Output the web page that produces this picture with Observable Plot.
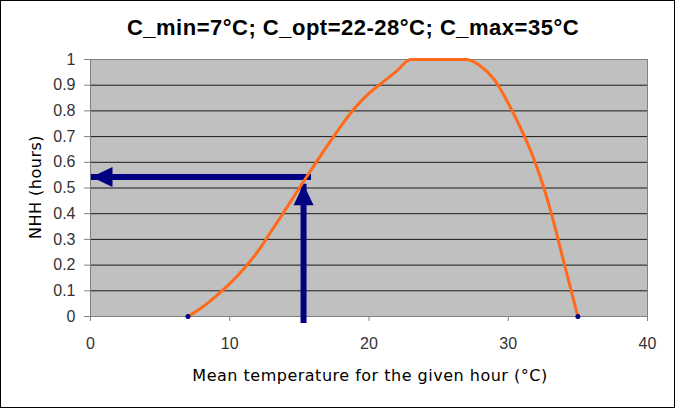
<!DOCTYPE html>
<html><head><meta charset="utf-8">
<script src="https://cdn.jsdelivr.net/npm/d3@7"></script>
<script src="https://cdn.jsdelivr.net/npm/@observablehq/plot@0.6"></script>
<style>
html,body{margin:0;padding:0;background:#fff;}
#wrap{position:relative;width:676px;height:409px;overflow:hidden;background:#fff;}
#chart{position:absolute;left:0;top:0;}
#border{position:absolute;left:0;top:0;width:675px;height:408px;border:1px solid #000;box-sizing:border-box;pointer-events:none;}
#title{position:absolute;left:353px;top:17px;transform:translateX(-50%);white-space:nowrap;font:bold 22px "Liberation Sans",Arial,sans-serif;line-height:22px;color:#000;letter-spacing:0.5px;}
#xlabel{position:absolute;left:370px;top:368px;transform:translateX(-50%);white-space:nowrap;font:16px "DejaVu Sans",sans-serif;line-height:16px;color:#000;letter-spacing:0.5px;}
#ylabel{position:absolute;left:36px;top:187px;transform:translate(-50%,-50%) rotate(-90deg);white-space:nowrap;font:16px "DejaVu Sans",sans-serif;line-height:16px;color:#000;letter-spacing:0.5px;}
</style>
</head><body>
<div id="wrap">
  <div id="chart"></div>
  <div id="title">C_min=7°C; C_opt=22-28°C; C_max=35°C</div>
  <div id="xlabel">Mean temperature for the given hour (°C)</div>
  <div id="ylabel">NHH (hours)</div>
  <div id="border"></div>
</div>
<script>
// Data
const temperature = [7, 8, 9, 10, 11, 12, 13, 14, 15, 16, 17, 18, 19, 20, 21, 22, 23, 24, 25, 26, 27, 28, 29, 30, 31, 32, 33, 34, 35];
const nhh = [0, 0.035, 0.078, 0.128, 0.185, 0.252, 0.333, 0.416, 0.5, 0.583, 0.664, 0.742, 0.812, 0.868, 0.912, 0.956, 1, 1, 1, 1, 1, 0.975, 0.922, 0.83, 0.72, 0.59, 0.42, 0.21, 0];
const endpointTemp = [7, 35];
const endpointNhh = [0, 0];
const xTicks = [0, 10, 20, 30, 40];
const yTicks = [0, 0.1, 0.2, 0.3, 0.4, 0.5, 0.6, 0.7, 0.8, 0.9, 1];
const gridLines = [0.1, 0.2, 0.3, 0.4, 0.5, 0.6, 0.7, 0.8, 0.9];
// Reading example (arrows)
const readTemp = [15.3];
const readTempFrom = [0.012];
const readTempTip = [0.515];
const readNhh = [0.543];
const readNhhFrom = [15.15];
const readNhhTip = [0.07];

const curveData = temperature.map((t, i) => ({t, v: nhh[i]}));
const endpoints = endpointTemp.map((t, i) => ({t, v: endpointNhh[i]}));

const arrowHead = {
  draw(context) {
    context.moveTo(0, 0);
    context.lineTo(10, 21);
    context.lineTo(-10, 21);
    context.closePath();
  }
};
const navy = "#000080";

const chart = Plot.plot({
  width: 676,
  height: 409,
  marginLeft: 90,
  marginRight: 29,
  marginTop: 59,
  marginBottom: 93,
  style: {background: "transparent", fontFamily: "'Liberation Sans', Arial, sans-serif", fontSize: "16px", overflow: "visible"},
  x: {domain: [0, 40]},
  y: {domain: [0, 1]},
  marks: [
    Plot.frame({fill: "#c0c0c0", stroke: null}),
    Plot.ruleY(gridLines, {stroke: "#1a1a1a", strokeWidth: 1}),
    Plot.frame({stroke: "#808080"}),
    Plot.axisY({ticks: yTicks, tickSize: 6, tickPadding: 9, stroke: "#808080", fill: "#333", tickFormat: d => String(d), label: null}),
    Plot.axisX({ticks: xTicks, tickSize: 5, tickPadding: 16, stroke: "#808080", fill: "#333", tickFormat: d => String(d), label: null}),
    // vertical arrow shaft + head
    Plot.ruleX(readTemp, {x: d => d, y1: () => readTempFrom[0], y2: () => readTempTip[0], insetTop: 10, stroke: navy, strokeWidth: 6, strokeLinecap: "butt"}),
    Plot.dot(readTemp, {x: d => d, y: () => readTempTip[0], symbol: arrowHead, fill: navy, stroke: null, r: 10}),
    // horizontal arrow shaft + head
    Plot.ruleY(readNhh, {y: d => d, x1: () => readNhhFrom[0], x2: () => readNhhTip[0], insetLeft: 10, stroke: navy, strokeWidth: 6, strokeLinecap: "butt"}),
    Plot.dot(readNhh, {y: d => d, x: () => readNhhTip[0], symbol: arrowHead, rotate: -90, fill: navy, stroke: null, r: 10}),
    // curve
    Plot.line(curveData, {x: "t", y: "v", stroke: "#ff6a1a", strokeWidth: 3, curve: "monotone-x"}),
    Plot.dot(endpoints, {x: "t", y: "v", r: 2.5, fill: navy, stroke: null})
  ]
});
document.getElementById("chart").appendChild(chart);
</script>
</body></html>
